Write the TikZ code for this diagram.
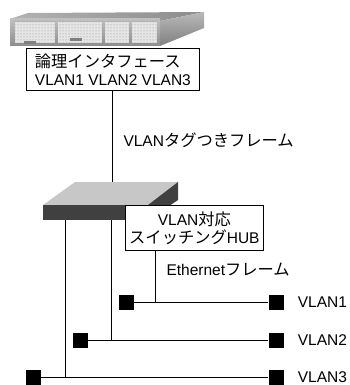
\documentclass[tikz,border=0pt]{standalone}
\usepackage{fontspec}
\setmainfont{Liberation Sans}
\newfontfamily\jp[Scale=1.05]{Noto Sans CJK JP}
\usetikzlibrary{positioning,patterns}

\tikzset{
  every node/.style={font=\fontsize{15.5}{18}\selectfont},
  lbl/.style={draw,fill=white,line width=0.8pt,inner sep=2pt},
  port/.style={fill=black,minimum size=15pt,inner sep=0pt},
  wire/.style={line width=0.8pt},
  vname/.style={inner sep=1pt},
}

\begin{document}
\begin{tikzpicture}[x=1pt,y=-1pt]
\useasboundingbox (0,0) rectangle (350,385);
% router
\shade[left color=gray!60,middle color=gray!15,right color=gray!90] (10,19) -- (28,13) -- (204,12) -- (160,21) -- cycle;
\shade[top color=gray!55,bottom color=gray!100] (160,21) -- (204,12) -- (204,28) -- (160,46) -- cycle;
\shade[top color=gray!50,bottom color=gray!90] (10,19) rectangle (160,46);
\foreach \a/\b in {15/55,58/102,105/129,132/157}{
  \fill[gray!20] (\a,22) rectangle (\b,43);
  \fill[pattern=dots,pattern color=gray!90] (\a,22) rectangle (\b,43);
}
\fill[gray!100] (24,41) rectangle (36,44);
\fill[gray!100] (70,38) rectangle (82,41);
% logical interfaces
\node[lbl,anchor=north west,minimum width=173pt,minimum height=42pt,align=left] (ifbox) at (26,48)
  {{\jp 論理インタフェース}\\VLAN1 VLAN2 VLAN3};
% switch
\fill[gray!44] (43,205) -- (75,182) -- (178,182) -- (148,205) -- cycle;
\fill[black!75] (43,205) rectangle (148,220);
\fill[black!75] (148,205) -- (178,182) -- (178,200) -- (148,220) -- cycle;
\coordinate (swtop) at (112,182);
\coordinate (sw3) at (65,220);
\coordinate (sw2) at (111,220);
\node[lbl,anchor=north west,minimum width=138pt,minimum height=45pt,align=center] (hub) at (125,205)
  {VLAN{\jp 対応}\\{\jp スイッチング}HUB};
% tagged link
\draw[wire] (ifbox.south -| swtop) -- (swtop);
\node[anchor=west] (tagged) at (120,140) {VLAN{\jp タグつきフレーム}};
% vlan segments
\node[port] (v1a) at (126,302) {};
\node[port] (v1b) at (276,302) {};
\node[port] (v2a) at (80,340) {};
\node[port] (v2b) at (276,340) {};
\node[port] (v3a) at (33,377) {};
\node[port] (v3b) at (276,377) {};
\draw[wire] (v1a) -- (v1b);
\draw[wire] (v2a) -- (v2b);
\draw[wire] (v3a) -- (v3b);
\node[vname,right=13pt of v1b] (l1) {VLAN1};
\node[vname,right=13pt of v2b] (l2) {VLAN2};
\node[vname,right=13pt of v3b] (l3) {VLAN3};
% drops from the switch
\coordinate (j1) at (155,302);
\coordinate (j2) at (111,340);
\coordinate (j3) at (65,377);
\draw[wire] (hub.south -| j1) -- (j1);
\draw[wire] (sw2) -- (j2);
\draw[wire] (sw3) -- (j3);
\node[anchor=west] (eth) at (163,270) {Ethernet{\jp フレーム}};
\end{tikzpicture}
\end{document}
